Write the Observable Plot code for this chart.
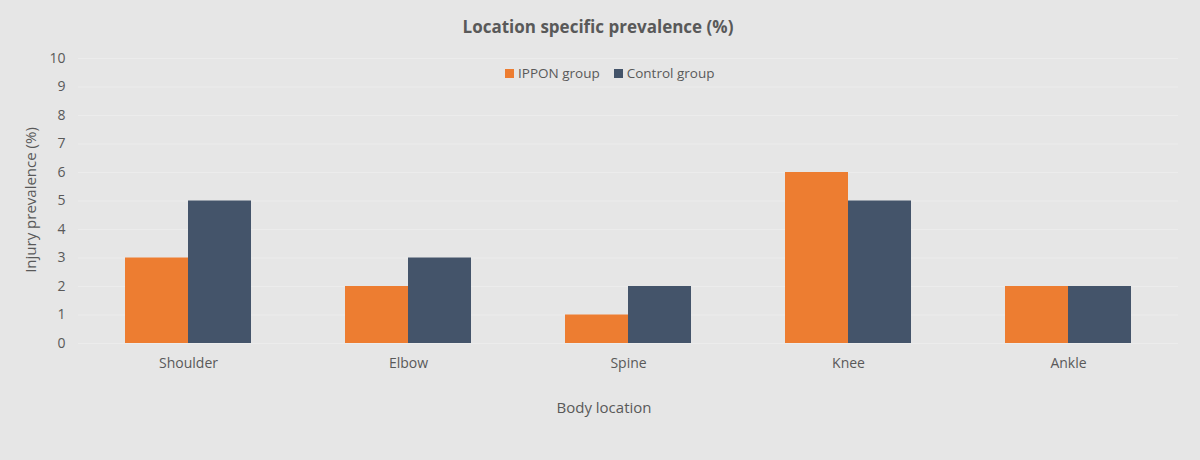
<!DOCTYPE html>
<html>
<head>
<meta charset="utf-8">
<script src="https://cdn.jsdelivr.net/npm/d3@7"></script>
<script src="https://cdn.jsdelivr.net/npm/@observablehq/plot@0.6"></script>
<style>
  html, body { margin: 0; padding: 0; background: #e6e6e6; }
  #wrap { position: relative; width: 1200px; height: 460px; background: #e6e6e6; font-family: "Open Sans", Lato, sans-serif; color: #595959; overflow: hidden; }
  #title { height: 45px; line-height: 54px; text-align: center; font-size: 17px; font-weight: bold; padding-right: 4px; box-sizing: border-box; }
  #legend { position: absolute; top: 64px; left: 505px; display: flex; align-items: center; font-size: 13.5px; white-space: nowrap; }
  #legend .sw { width: 9px; height: 9px; display: inline-block; margin-right: 4px; }
  #legend .item { display: flex; align-items: center; margin-right: 14px; }
  #xlabel { position: absolute; top: 397px; left: 0; width: 1208px; text-align: center; font-size: 15px; }
  #ylabel { position: absolute; left: 30px; top: 200px; transform: translate(-50%, -50%) rotate(-90deg); font-size: 15px; white-space: nowrap; }
  svg { display: block; }
</style>
</head>
<body>
<div id="wrap">
  <div id="title">Location specific prevalence (%)</div>
  <div id="chart"></div>
  <div id="legend"></div>
  <div id="xlabel">Body location</div>
  <div id="ylabel">Injury prevalence (%)</div>
</div>
<script>
const categories = ["Shoulder", "Elbow", "Spine", "Knee", "Ankle"];
const groups = ["IPPON group", "Control group"];
const ipponValues = [3, 2, 1, 6, 2];
const controlValues = [5, 3, 2, 5, 2];
const colors = ["#ed7d31", "#44546a"];
const yTicks = [0, 1, 2, 3, 4, 5, 6, 7, 8, 9, 10];

const data = [];
categories.forEach((c, i) => {
  data.push({category: c, group: groups[0], value: ipponValues[i]});
  data.push({category: c, group: groups[1], value: controlValues[i]});
});

const chart = Plot.plot({
  width: 1200,
  height: 415,
  marginTop: 13,
  marginBottom: 117,
  marginLeft: 77,
  marginRight: 21,
  style: {background: "#e6e6e6", color: "#595959", fontFamily: "'Open Sans', Lato, sans-serif", fontSize: "14px"},
  fx: {domain: categories, padding: 0, label: null},
  x: {domain: groups, paddingInner: 0, paddingOuter: 0.73, axis: null},
  y: {domain: [0, 10], label: null},
  color: {domain: groups, range: colors},
  marks: [
    Plot.ruleY(yTicks, {stroke: "#ececec", strokeWidth: 1}),
    Plot.barY(data, {fx: "category", x: "group", y: "value", fill: "group"}),
    Plot.axisY({ticks: yTicks, tickSize: 0, tickPadding: 13, label: null, fontSize: 14}),
    Plot.axisFx({anchor: "bottom", tickSize: 0, tickPadding: 15, label: null, fontSize: 14})
  ]
});
document.getElementById("chart").appendChild(chart);

const legend = document.getElementById("legend");
groups.forEach((g, i) => {
  const item = document.createElement("div");
  item.className = "item";
  const sw = document.createElement("span");
  sw.className = "sw";
  sw.style.background = colors[i];
  const t = document.createElement("span");
  t.textContent = g;
  item.appendChild(sw);
  item.appendChild(t);
  legend.appendChild(item);
});
</script>
</body>
</html>
